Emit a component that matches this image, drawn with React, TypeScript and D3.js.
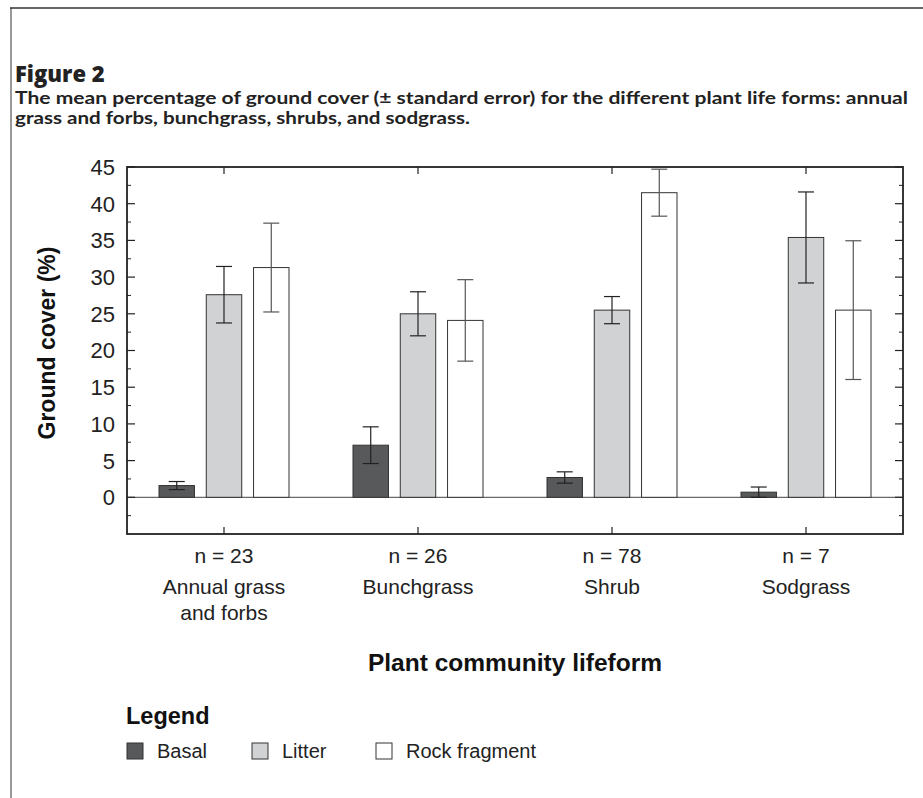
import React from "react";
import * as d3 from "d3";

const categories = ["Annual grass\nand forbs", "Bunchgrass", "Shrub", "Sodgrass"];
const sampleSizes = ["n = 23", "n = 26", "n = 78", "n = 7"];
const seriesNames = ["Basal", "Litter", "Rock fragment"];
const basalMean = [1.6, 7.1, 2.7, 0.7];
const basalSE = [0.55, 2.5, 0.77, 0.7];
const litterMean = [27.6, 25.0, 25.5, 35.4];
const litterSE = [3.85, 3.0, 1.85, 6.2];
const rockMean = [31.3, 24.1, 41.5, 25.5];
const rockSE = [6.05, 5.55, 3.2, 9.45];
const yTicks = [0, 5, 10, 15, 20, 25, 30, 35, 40, 45];
const minorTicks = [-2.5, 2.5, 7.5, 12.5, 17.5, 22.5, 27.5, 32.5, 37.5, 42.5];

const fills = ["#58595b", "#d1d2d4", "#ffffff"];
const errColors = ["#222", "#222", "#555"];

export default function App() {
  const W = 923, H = 798;
  const left = 127, right = 903, top = 167, bottom = 534;
  const x = d3.scaleBand<string>().domain(categories).range([left, right]);
  const y = d3.scaleLinear().domain([-5, 45]).range([bottom, top]);
  const inner = d3.scaleBand<string>().domain(seriesNames).range([-65, 65]).paddingInner(0.25).paddingOuter(0);
  const means = [basalMean, litterMean, rockMean];
  const ses = [basalSE, litterSE, rockSE];
  const sans = "'Liberation Sans', Arial, sans-serif";
  const head = "'Open Sans', 'Noto Sans', sans-serif";
  const sub = "Lato, 'Open Sans', sans-serif";

  return (
    <svg width={W} height={H} style={{ position: "absolute", left: 0, top: 0, background: "#fff" }}>
      {/* frame */}
      <line x1={11} y1={8} x2={11} y2={H} stroke="#999" strokeWidth={2} />
      <line x1={10} y1={8} x2={W} y2={8} stroke="#333" strokeWidth={1.5} />

      <text x={15} y={82} fontFamily={head} fontWeight={800} fontSize={22} fill="#222">Figure 2</text>
      <text x={15} y={104} fontFamily={sub} fontWeight={700} fontSize={16.5} fill="#222"
        textLength={893} lengthAdjust="spacingAndGlyphs">
        The mean percentage of ground cover (± standard error) for the different plant life forms: annual
      </text>
      <text x={15} y={124} fontFamily={sub} fontWeight={700} fontSize={16.5} fill="#222"
        textLength={455} lengthAdjust="spacingAndGlyphs">
        grass and forbs, bunchgrass, shrubs, and sodgrass.
      </text>

      {/* zero line */}
      <line x1={left} x2={right} y1={y(0)} y2={y(0)} stroke="#444" strokeWidth={1} />

      {/* bars */}
      {seriesNames.map((s, si) =>
        categories.map((c, ci) => {
          const cx = x(c)! + x.bandwidth() / 2;
          const bx = cx + inner(s)!;
          const v = means[si][ci];
          return (
            <rect key={s + c} x={bx} y={y(v)} width={inner.bandwidth()} height={y(0) - y(v)}
              fill={fills[si]} stroke="#333" strokeWidth={1} />
          );
        })
      )}
      {/* error bars */}
      {seriesNames.map((s, si) =>
        categories.map((c, ci) => {
          const cx = x(c)! + x.bandwidth() / 2 + inner(s)! + inner.bandwidth() / 2;
          const v = means[si][ci], e = ses[si][ci];
          const col = errColors[si];
          return (
            <g key={"e" + s + c} stroke={col} strokeWidth={1.2}>
              <line x1={cx} x2={cx} y1={y(v + e)} y2={y(v - e)} />
              <line x1={cx - 8} x2={cx + 8} y1={y(v + e)} y2={y(v + e)} />
              <line x1={cx - 8} x2={cx + 8} y1={y(v - e)} y2={y(v - e)} />
            </g>
          );
        })
      )}

      {/* ticks */}
      {yTicks.map((t) => (
        <g key={"yt" + t}>
          <line x1={left} x2={left + 8} y1={y(t)} y2={y(t)} stroke="#222" strokeWidth={1.2} />
          <line x1={right} x2={right - 8} y1={y(t)} y2={y(t)} stroke="#222" strokeWidth={1.2} />
          <text x={115} y={y(t)} dy="0.36em" textAnchor="end" fontFamily={sans} fontSize={22} fill="#222">{t}</text>
        </g>
      ))}
      {minorTicks.map((t) => (
        <g key={"mt" + t}>
          <line x1={left} x2={left + 4} y1={y(t)} y2={y(t)} stroke="#222" strokeWidth={1} />
          <line x1={right} x2={right - 4} y1={y(t)} y2={y(t)} stroke="#222" strokeWidth={1} />
        </g>
      ))}
      {categories.map((c, ci) => {
        const cx = x(c)! + x.bandwidth() / 2;
        const lines = c.split("\n");
        return (
          <g key={"xc" + c}>
            <line x1={cx} x2={cx} y1={top} y2={top + 7} stroke="#222" strokeWidth={1.2} />
            <line x1={cx} x2={cx} y1={bottom} y2={bottom - 7} stroke="#222" strokeWidth={1.2} />
            <text x={cx} y={563} textAnchor="middle" fontFamily={sans} fontSize={21} fill="#222">{sampleSizes[ci]}</text>
            {lines.map((l, li) => (
              <text key={li} x={cx} y={594 + li * 26} textAnchor="middle" fontFamily={sans} fontSize={21} fill="#222">{l}</text>
            ))}
          </g>
        );
      })}

      {/* plot frame */}
      <rect x={left} y={top} width={right - left} height={bottom - top} fill="none" stroke="#222" strokeWidth={1.8} />

      {/* axis titles */}
      <text x={(left + right) / 2} y={671} textAnchor="middle" fontFamily={sans} fontWeight={700} fontSize={24.5} fill="#111">Plant community lifeform</text>
      <text transform={`translate(55,${343}) rotate(-90)`} textAnchor="middle" fontFamily={sans} fontWeight={700} fontSize={23} fill="#111">Ground cover (%)</text>

      {/* legend */}
      <text x={126} y={724} fontFamily={sans} fontWeight={700} fontSize={23.5} fill="#111">Legend</text>
      {seriesNames.map((s, si) => {
        const lx = [127, 252, 376][si];
        return (
          <g key={"lg" + s}>
            <rect x={lx} y={743} width={16} height={16} fill={fills[si]} stroke="#333" strokeWidth={1} />
            <text x={lx + 30} y={758} fontFamily={sans} fontSize={20} fill="#222">{s}</text>
          </g>
        );
      })}
    </svg>
  );
}
